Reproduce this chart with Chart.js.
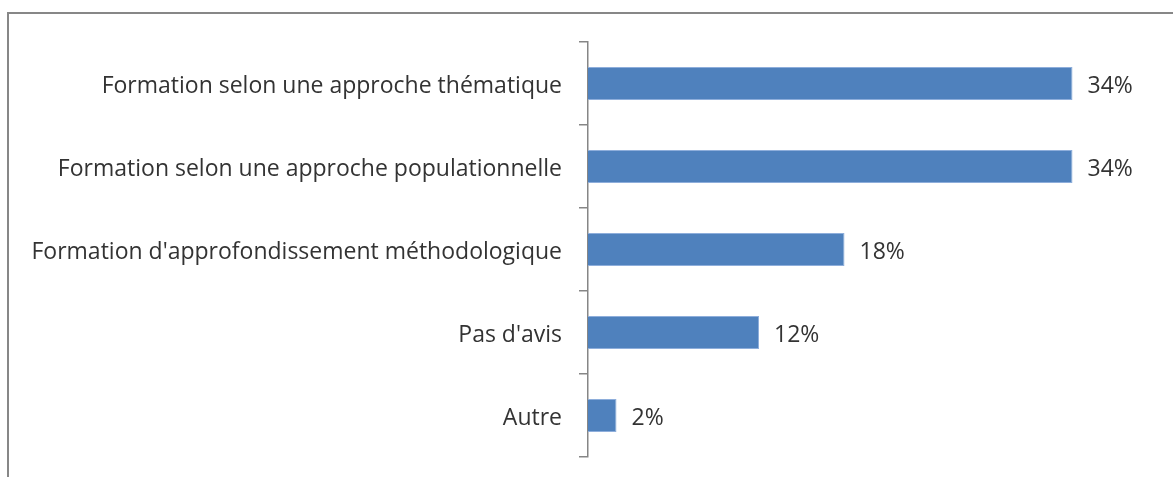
<!DOCTYPE html>
<html>
<head>
<meta charset="utf-8">
<script src="https://cdn.jsdelivr.net/npm/chart.js@4"></script>
<style>
  body { margin: 0; background: #fff; overflow: hidden; }
  #frame { position: absolute; left: 7px; top: 12px; width: 1200px; height: 500px; border: 2px solid #878787; }
  #wrap { position: absolute; left: 0; top: 0; width: 1173px; height: 477px; }
</style>
</head>
<body>
<div id="frame"></div>
<div id="wrap"><canvas id="chart"></canvas></div>
<script>
const categories = [
  'Formation selon une approche thématique',
  'Formation selon une approche populationnelle',
  "Formation d'approfondissement méthodologique",
  "Pas d'avis",
  'Autre',
];
const values = [34, 34, 18, 12, 2];

// draws "34%" etc. just past the end of each bar
const valueLabels = {
  id: 'valueLabels',
  afterDatasetsDraw(chart) {
    const ctx = chart.ctx;
    const meta = chart.getDatasetMeta(0);
    ctx.save();
    ctx.font = '23px "Open Sans", sans-serif';
    ctx.fillStyle = '#333333';
    ctx.textBaseline = 'middle';
    meta.data.forEach((bar, i) => {
      ctx.fillText(values[i] + '%', bar.x + 15, bar.y + 3);
    });
    ctx.restore();
  },
};

new Chart(document.getElementById('chart'), {
  type: 'bar',
  data: {
    labels: categories,
    datasets: [{
      data: values,
      backgroundColor: '#4f81bd',
      borderColor: '#8eaedb',
      borderWidth: 1,
      barPercentage: 0.8,
      categoryPercentage: 0.5,
    }],
  },
  options: {
    indexAxis: 'y',
    responsive: true,
    maintainAspectRatio: false,
    animation: false,
    layout: { padding: { top: 42, bottom: 20, right: 15, left: 0 } },
    plugins: { legend: { display: false }, tooltip: { enabled: false } },
    scales: {
      x: { display: false, min: 0, max: 40 },
      y: {
        afterFit(scale) {
          scale.width = 588;
          scale.paddingTop = 0;
          scale.paddingBottom = 0;
        },
        border: { color: '#868686', width: 1.5 },
        grid: { drawOnChartArea: false, drawTicks: true, tickLength: 9, color: '#868686', lineWidth: 1.5 },
        ticks: { color: '#333333', padding: 17, labelOffset: 3, font: { family: 'Open Sans', size: 23 } },
      },
    },
  },
  plugins: [valueLabels],
});
</script>
</body>
</html>
